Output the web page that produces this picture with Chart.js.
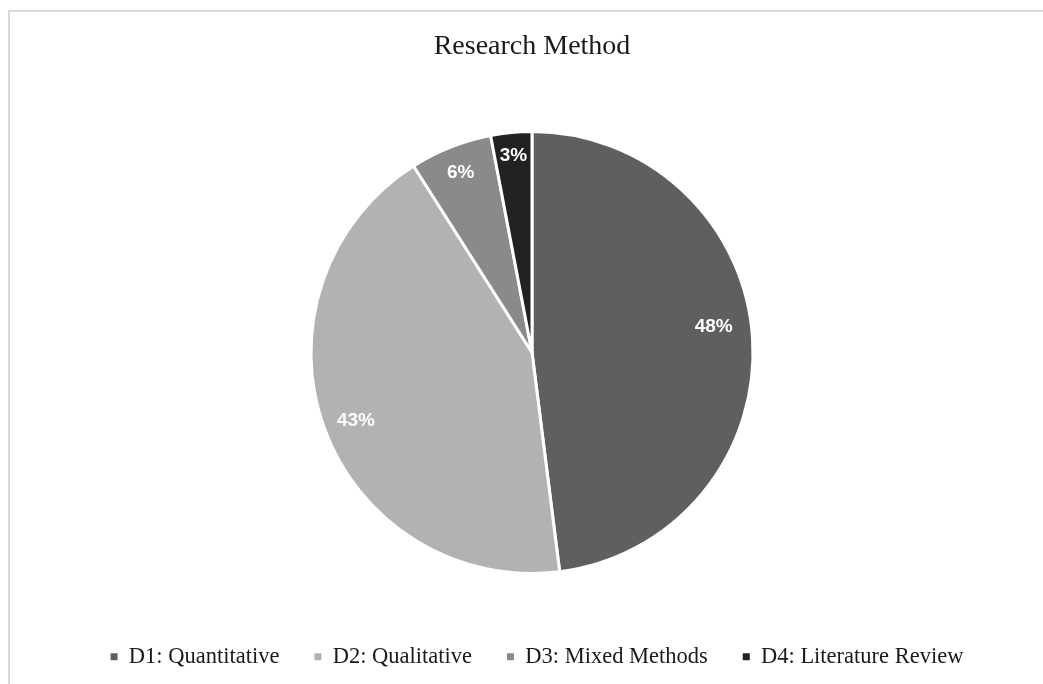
<!DOCTYPE html>
<html>
<head>
<meta charset="utf-8">
<script src="https://cdn.jsdelivr.net/npm/chart.js@4/dist/chart.umd.min.js"></script>
<style>
  html, body { margin: 0; padding: 0; background: #fff; }
  #wrap { position: relative; width: 1043px; height: 684px; overflow: hidden; }
  #frame { position: absolute; left: 8px; top: 10px; width: 1100px; height: 700px;
           border-top: 2px solid #d9d9d9; border-left: 2px solid #d9d9d9; box-sizing: border-box; }
  canvas { position: absolute; left: 0; top: 0; }
</style>
</head>
<body>
<div id="wrap">
  <div id="frame"></div>
  <canvas id="c" width="1043" height="684"></canvas>
</div>
<script>
const title = "Research Method";
const categories = ["D1: Quantitative", "D2: Qualitative", "D3: Mixed Methods", "D4: Literature Review"];
const shares = [48, 43, 6, 3];
const colors = ["#5f5f5f", "#b2b2b2", "#8a8a8a", "#222222"];

const labelPlugin = {
  id: 'sliceLabels',
  afterDatasetsDraw(chart, args, opts) {
    const ctx = chart.ctx;
    const meta = chart.getDatasetMeta(0);
    ctx.save();
    ctx.font = 'bold 19px "Liberation Sans", Arial, sans-serif';
    ctx.fillStyle = '#ffffff';
    ctx.textAlign = 'center';
    ctx.textBaseline = 'middle';
    meta.data.forEach((arc, i) => {
      const p = arc.getProps(['x', 'y', 'startAngle', 'endAngle', 'outerRadius'], true);
      const mid = (p.startAngle + p.endAngle) / 2 + (opts.angleShift[i] || 0) * Math.PI / 180;
      const r = p.outerRadius * opts.radius[i];
      ctx.fillText(shares[i] + '%', p.x + Math.cos(mid) * r, p.y + Math.sin(mid) * r);
    });
    ctx.restore();
  }
};

const legendShift = {
  id: 'legendShift',
  afterLayout(chart, args, opts) {
    if (chart.legend) { chart.legend.left += opts.dx; chart.legend.right += opts.dx; }
  }
};

new Chart(document.getElementById('c'), {
  type: 'pie',
  data: {
    labels: categories,
    datasets: [{
      data: shares,
      backgroundColor: colors,
      borderColor: '#ffffff',
      borderWidth: 3,
      radius: 221
    }]
  },
  options: {
    responsive: false,
    animation: false,
    layout: { padding: { left: 21, bottom: 6 } },
    plugins: {
      title: {
        display: true,
        text: title,
        color: '#1a1a1a',
        font: { family: '"Liberation Serif", "Times New Roman", serif', size: 28, weight: 'normal' },
        padding: { top: 30, bottom: 31 }
      },
      legend: {
        position: 'bottom',
        labels: {
          usePointStyle: true,
          pointStyle: 'rect',
          boxWidth: 7,
          boxHeight: 7,
          padding: 35,
          color: '#1a1a1a',
          font: { family: '"Liberation Serif", "Times New Roman", serif', size: 22.5 },
          generateLabels(chart) {
            return Chart.overrides.pie.plugins.legend.labels.generateLabels(chart).map(l => {
              l.lineWidth = 0; l.strokeStyle = l.fillStyle; l.pointStyle = 'rect'; return l;
            });
          }
        }
      },
      legendShift: { dx: 5 },
      tooltip: { enabled: false },
      sliceLabels: {
        radius: [0.83, 0.855, 0.876, 0.894],
        angleShift: [-4.4, -1.5, 0, 0]
      }
    }
  },
  plugins: [labelPlugin, legendShift]
});
</script>
</body>
</html>
